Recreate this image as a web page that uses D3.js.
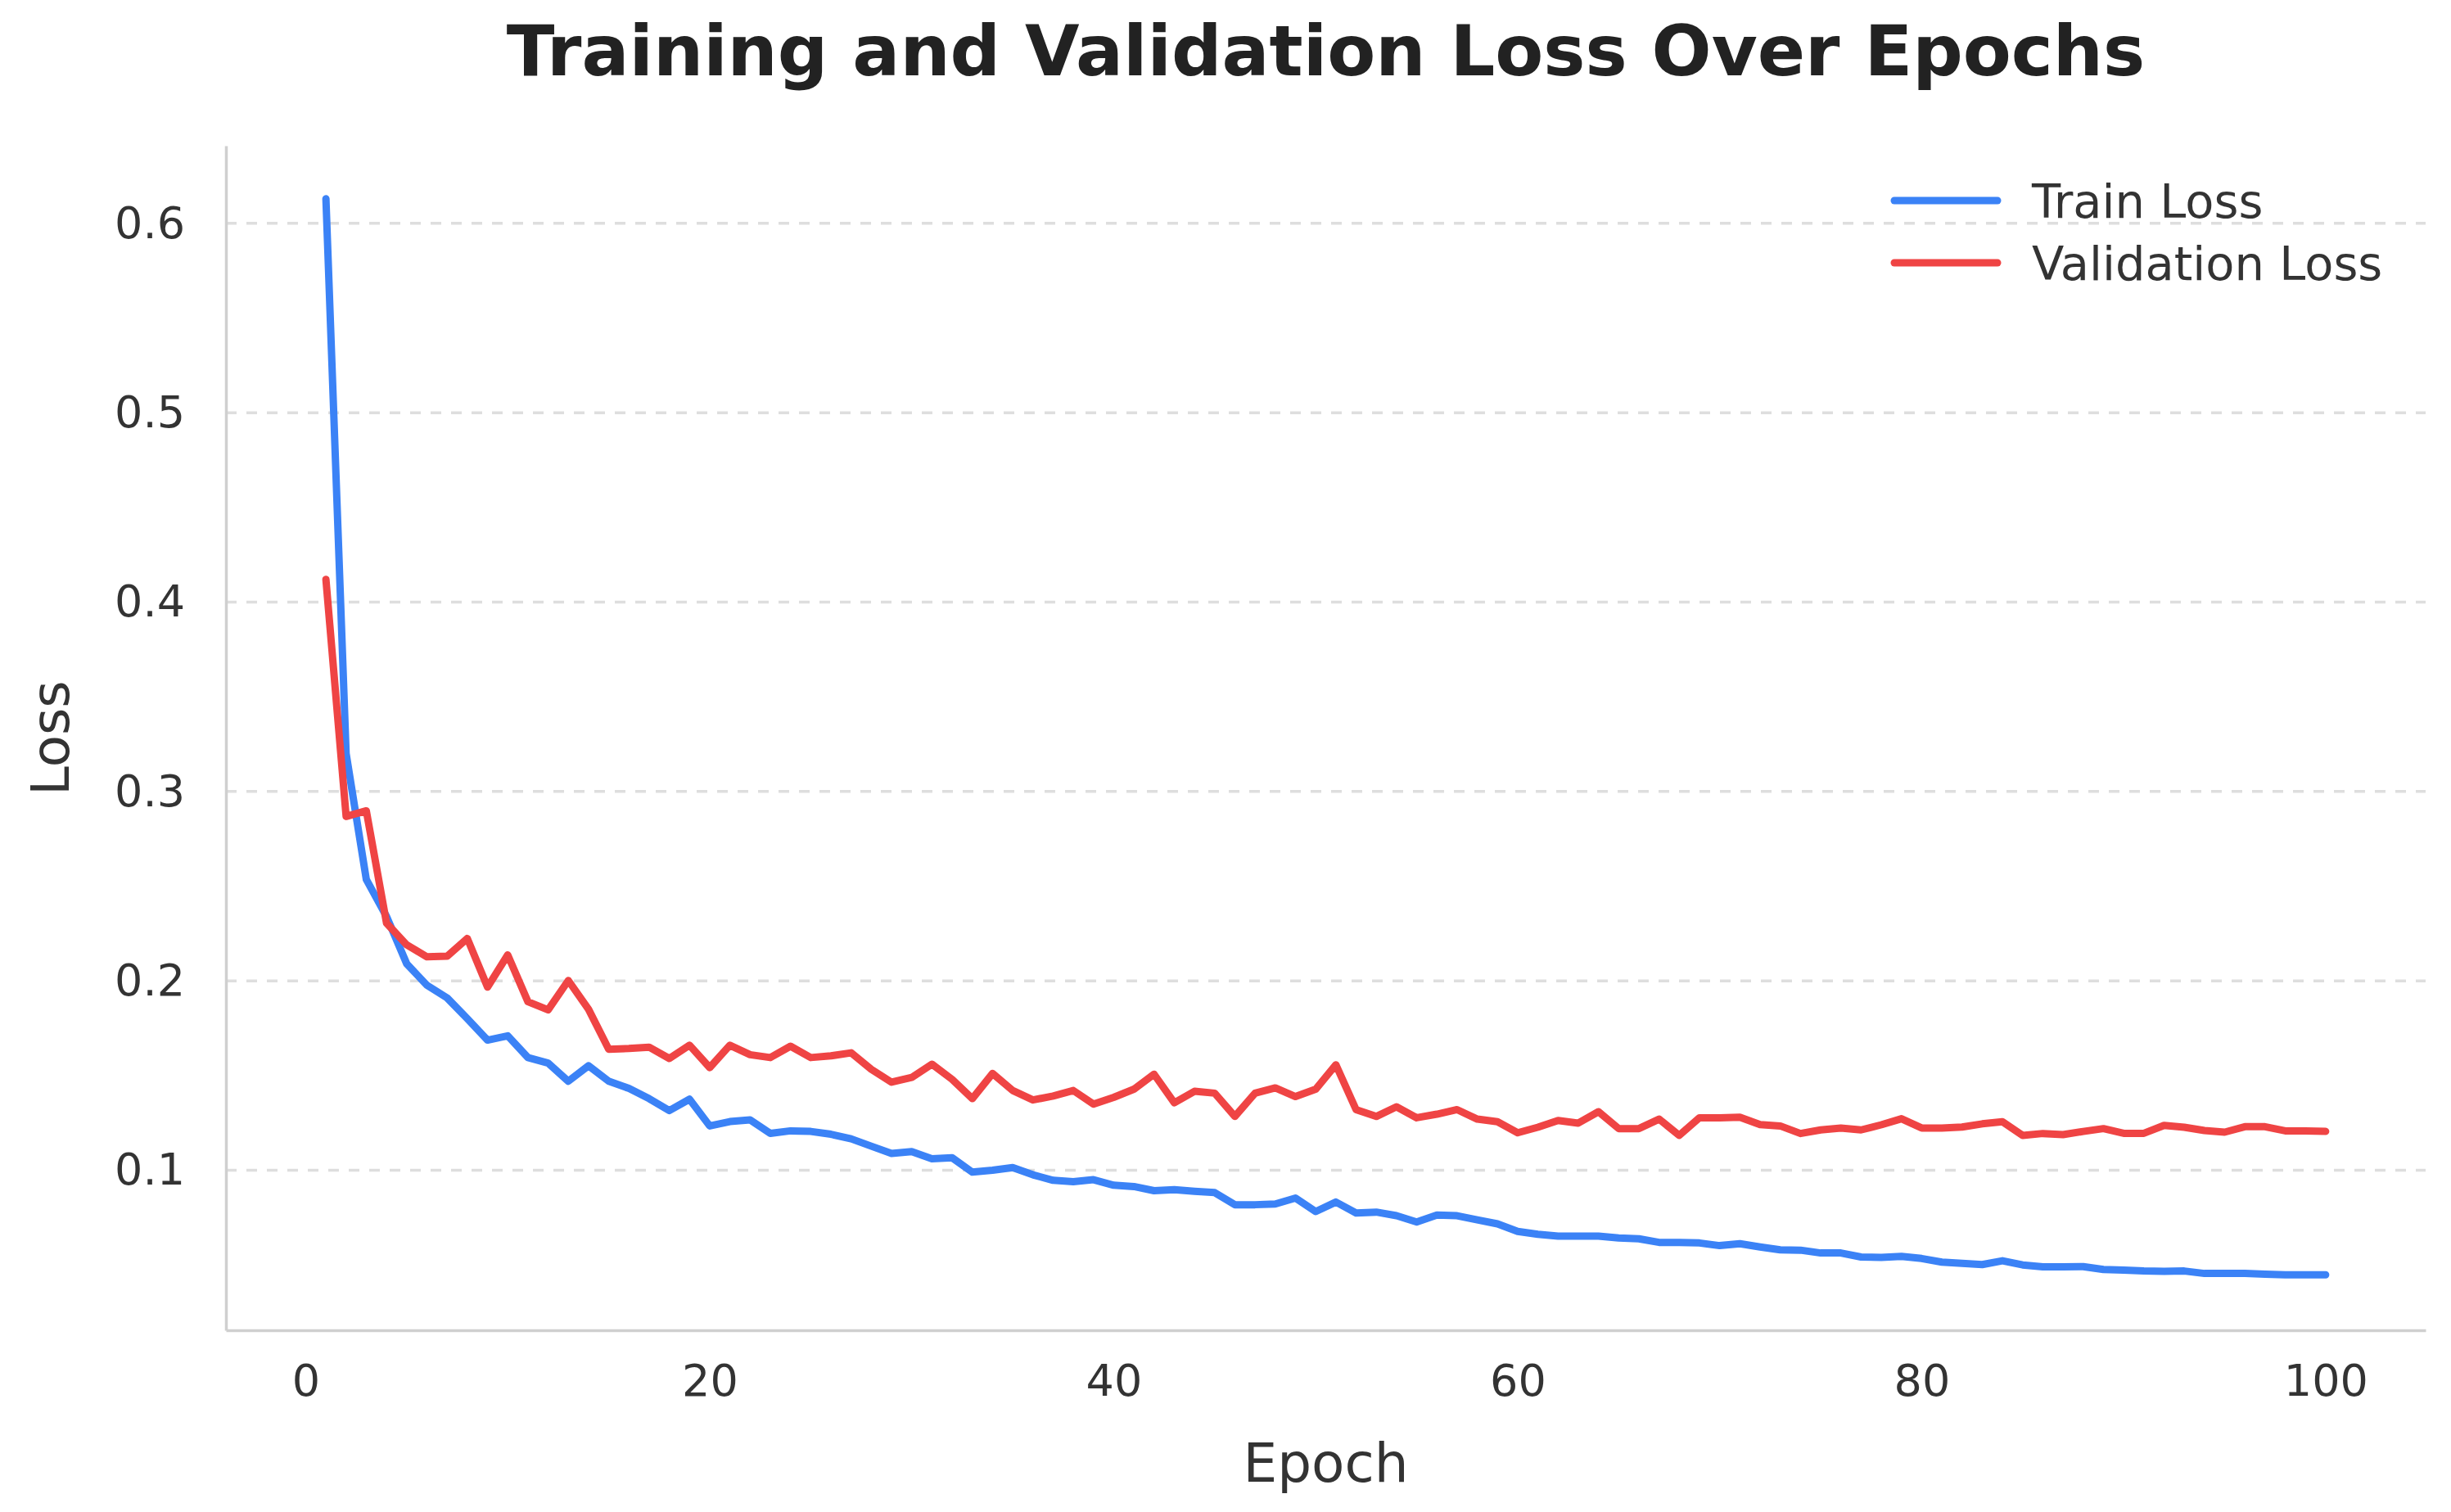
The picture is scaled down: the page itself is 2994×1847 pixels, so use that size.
<!DOCTYPE html>
<html>
<head>
<meta charset="utf-8">
<script src="https://cdn.jsdelivr.net/npm/d3@7"></script>
<style>
  body { margin: 0; background: #fff; }
  text { font-family: "DejaVu Sans", sans-serif; }
</style>
</head>
<body>
<div id="chart"></div>
<script>
// epochs 1..100
var epochs = d3.range(1, 101);

var trainLoss = [
  0.613, 0.32, 0.2535, 0.234, 0.209, 0.1977, 0.191, 0.180, 0.1687, 0.171,
  0.1595, 0.1566, 0.147, 0.1552, 0.147, 0.1432, 0.1378, 0.1315, 0.1375, 0.1234,
  0.1257, 0.1266, 0.1195, 0.1208, 0.1205, 0.119, 0.1166, 0.1127, 0.1089, 0.1098,
  0.1061, 0.1066, 0.099, 0.100, 0.1014, 0.0976, 0.0947, 0.094, 0.095, 0.0921,
  0.0914, 0.0892, 0.0897, 0.0889, 0.0882, 0.0818, 0.0818, 0.0822, 0.0853, 0.0782,
  0.0832, 0.0774, 0.0779, 0.076, 0.0727, 0.0763, 0.076, 0.0738, 0.0717, 0.0677,
  0.0662, 0.0652, 0.0652, 0.0652, 0.0642, 0.0638, 0.0619, 0.0619, 0.0616, 0.0602,
  0.0612, 0.0595, 0.058, 0.0578, 0.0563, 0.0563, 0.0542, 0.054, 0.0545, 0.0534,
  0.0515, 0.0508, 0.0502, 0.0522, 0.05, 0.049, 0.049, 0.0491, 0.0476, 0.0473,
  0.0468, 0.0466, 0.0468, 0.0455, 0.0455, 0.0455, 0.0451, 0.0448, 0.0448, 0.0448
];

var valLoss = [
  0.412, 0.2868, 0.2898, 0.2305, 0.219, 0.2127, 0.213, 0.2224, 0.1967, 0.2137,
  0.189, 0.1847, 0.2002, 0.185, 0.1639, 0.1643, 0.165, 0.159, 0.166, 0.1542,
  0.166, 0.161, 0.1595, 0.1655, 0.1595, 0.1604, 0.162, 0.1533, 0.1465, 0.149,
  0.156, 0.148, 0.1378, 0.1511, 0.1421, 0.1371, 0.1392, 0.1421, 0.1349, 0.1385,
  0.1428, 0.1507, 0.1356, 0.1417, 0.1407, 0.1284, 0.1407, 0.1435, 0.1389, 0.1428,
  0.1557, 0.132, 0.1284, 0.1335, 0.1277, 0.1296, 0.132, 0.127, 0.1256, 0.1198,
  0.1227, 0.1263, 0.1249, 0.1309, 0.122, 0.122, 0.127, 0.1184, 0.1277, 0.1277,
  0.128, 0.1241, 0.1234, 0.1194, 0.1213, 0.1223, 0.1213, 0.124, 0.1272, 0.1223,
  0.1223, 0.1228, 0.1245, 0.1256, 0.1184, 0.1194, 0.1188, 0.1205, 0.122, 0.1195,
  0.1195, 0.1237, 0.1227, 0.121, 0.1201, 0.123, 0.123, 0.1208, 0.1208, 0.1205
];

var xTicks = [0, 20, 40, 60, 80, 100];
var yTicks = [0.1, 0.2, 0.3, 0.4, 0.5, 0.6];
var seriesNames = ["Train Loss", "Validation Loss"];
var seriesColors = ["#3b82f6", "#ef4444"];

var W = 2994, H = 1847;
var plot = { left: 276, right: 2963, top: 178, bottom: 1625 };

var svg = d3.select("#chart").append("svg")
    .attr("width", W)
    .attr("height", H);

var x = d3.scaleLinear()
    .domain([-3.95, 104.95])
    .range([plot.left, plot.right]);

var y = d3.scaleLinear()
    .domain([0.0155, 0.641])
    .range([plot.bottom, plot.top]);

// dashed horizontal grid
svg.append("g")
    .selectAll("line")
    .data(yTicks)
    .join("line")
    .attr("x1", plot.left)
    .attr("x2", plot.right)
    .attr("y1", d => y(d))
    .attr("y2", d => y(d))
    .attr("stroke", "#dedede")
    .attr("stroke-width", 3.5)
    .attr("stroke-dasharray", "13,12");

// axes (domain path works as the spine)
var xAxis = svg.append("g")
    .attr("transform", "translate(0," + plot.bottom + ")")
    .call(d3.axisBottom(x).tickValues(xTicks).tickSize(0).tickPadding(42));

var yAxis = svg.append("g")
    .attr("transform", "translate(" + plot.left + ",0)")
    .call(d3.axisLeft(y).tickValues(yTicks).tickFormat(d3.format(".1f")).tickSize(0).tickPadding(50));

[xAxis, yAxis].forEach(function (g) {
    g.select(".domain")
        .attr("stroke", "#cfcfcf")
        .attr("stroke-width", 3.5);
    g.selectAll(".tick text")
        .attr("font-family", "DejaVu Sans")
        .attr("font-size", "54px")
        .attr("fill", "#333");
});

// series lines
var line = d3.line()
    .x((d, i) => x(epochs[i]))
    .y(d => y(d));

[trainLoss, valLoss].forEach(function (s, k) {
    svg.append("path")
        .datum(s)
        .attr("fill", "none")
        .attr("stroke", seriesColors[k])
        .attr("stroke-width", 9)
        .attr("stroke-linejoin", "round")
        .attr("stroke-linecap", "round")
        .attr("d", line);
});

// title and axis labels
svg.append("text")
    .attr("x", (plot.left + plot.right) / 2)
    .attr("y", 92)
    .attr("text-anchor", "middle")
    .attr("font-size", "86px")
    .attr("font-weight", "bold")
    .attr("fill", "#222")
    .text("Training and Validation Loss Over Epochs");

svg.append("text")
    .attr("x", (plot.left + plot.right) / 2)
    .attr("y", 1810)
    .attr("text-anchor", "middle")
    .attr("font-size", "66px")
    .attr("fill", "#333")
    .text("Epoch");

svg.append("text")
    .attr("transform", "translate(84," + ((plot.top + plot.bottom) / 2) + ") rotate(-90)")
    .attr("text-anchor", "middle")
    .attr("font-size", "64px")
    .attr("fill", "#333")
    .text("Loss");

// legend
var legend = svg.append("g")
    .attr("transform", "translate(2314,245)");

seriesNames.forEach(function (name, k) {
    var row = legend.append("g")
        .attr("transform", "translate(0," + (k * 76) + ")");
    row.append("line")
        .attr("x1", 0)
        .attr("x2", 126)
        .attr("stroke", seriesColors[k])
        .attr("stroke-width", 9)
        .attr("stroke-linecap", "round");
    row.append("text")
        .attr("x", 168)
        .attr("dy", "0.36em")
        .attr("font-size", "57.5px")
        .attr("fill", "#333")
        .text(name);
});
</script>
</body>
</html>
